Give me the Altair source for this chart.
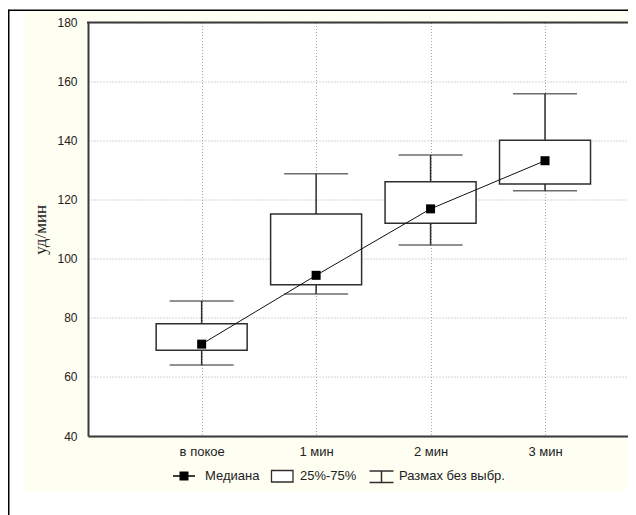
import altair as alt
import pandas as pd

# ---- data ----
categories = ["в покое", "1 мин", "2 мин", "3 мин"]
medians = [71.1, 94.4, 116.9, 133.2]
q1 = [69.0, 91.2, 112.0, 125.3]
q3 = [78.0, 115.2, 126.1, 140.1]
whisk_lo = [64.0, 88.1, 104.7, 123.0]
whisk_hi = [85.7, 128.8, 135.1, 155.9]
y_ticks = [40, 60, 80, 100, 120, 140, 160, 180]
y_title = "уд/мин"
legend_labels = ["Медиана", "25%-75%", "Размах без выбр."]

df = pd.DataFrame({
    "cat": categories, "med": medians, "q1": q1, "q3": q3,
    "lo": whisk_lo, "hi": whisk_hi,
})
one = pd.DataFrame({"k": [0]})  # single row for decorative marks

W, H = 540, 413.5
LINE = "#2e2e2e"
AXC = "#3a3a3a"
FONT = "Liberation Sans"

xenc = alt.X("cat:N", sort=categories,
             scale=alt.Scale(type="point", padding=0.859, align=0.578),
             axis=alt.Axis(title=None, labelAngle=0, labelFontSize=13, labelFont=FONT,
                           labelColor="#222", ticks=False, tickSize=0, domain=True,
                           domainColor=AXC, domainWidth=2,
                           labelPadding=9, grid=True, gridDash=[1, 2],
                           gridColor="#a8a8a8", gridWidth=1))
yscale = alt.Scale(domain=[40, 180], nice=False, zero=False)
yaxis = alt.Axis(title=y_title, values=y_ticks, titleFont="Liberation Serif",
                 titleFontSize=17, titleFontWeight="normal", titleColor="#222",
                 titleX=-48, titleY=H / 2, titleAngle=-90, titleAlign="center",
                 titleBaseline="middle", labelFont=FONT, labelFontSize=12,
                 labelColor="#222", ticks=False, tickSize=0, domain=True,
                 domainColor=AXC, domainWidth=2,
                 labelPadding=11, gridDash=[1, 2], gridColor="#a8a8a8", gridWidth=1)

base = alt.Chart(df)
deco = alt.Chart(one)

# decorations (white margins + outer frame + top border of plot)
white_left = deco.mark_rect(color="white").encode(
    x=alt.value(-80), x2=alt.value(-65), y=alt.value(-14.5), y2=alt.value(492.5))
white_top = deco.mark_rect(color="white").encode(
    x=alt.value(-80), x2=alt.value(W), y=alt.value(-14.5), y2=alt.value(-12))
white_bot = deco.mark_rect(color="white").encode(
    x=alt.value(-80), x2=alt.value(W), y=alt.value(468.5), y2=alt.value(492.5))
frame_left = deco.mark_rule(color="black", strokeWidth=1.6).encode(
    x=alt.value(-79.3), y=alt.value(-12.8), y2=alt.value(492.5))
frame_top = deco.mark_rule(color="black", strokeWidth=1.6).encode(
    x=alt.value(-80), x2=alt.value(W), y=alt.value(-12.2))
plot_top = deco.mark_rule(color=AXC, strokeWidth=2).encode(
    x=alt.value(-1), x2=alt.value(W), y=alt.value(0))

stems = base.mark_rule(color=LINE, strokeWidth=1.5).encode(
    x=xenc, y=alt.Y("lo:Q", scale=yscale, axis=yaxis), y2="hi:Q")
caps_lo = base.mark_tick(color=LINE, size=64, thickness=1.5, orient="horizontal").encode(
    x=alt.X("cat:N", sort=categories), y="lo:Q")
caps_hi = base.mark_tick(color=LINE, size=64, thickness=1.5, orient="horizontal").encode(
    x=alt.X("cat:N", sort=categories), y="hi:Q")
boxes = base.mark_bar(fill="white", stroke=LINE, strokeWidth=1.5, size=91).encode(
    x=alt.X("cat:N", sort=categories), y="q1:Q", y2="q3:Q")
med_line = base.mark_line(color="#111", strokeWidth=1).encode(
    x=alt.X("cat:N", sort=categories), y="med:Q")
med_pts = base.mark_square(color="black", size=81, opacity=1).encode(
    x=alt.X("cat:N", sort=categories), y="med:Q")

# custom legend
LY = 453.5
TXT = dict(align="left", baseline="middle", font=FONT, fontSize=13,
           fontWeight="normal", color="#222")
leg_line = deco.mark_rule(color="black", strokeWidth=1.5).encode(
    x=alt.value(85), x2=alt.value(107), y=alt.value(LY))
leg_sq = deco.mark_square(color="black", size=81, opacity=1).encode(
    x=alt.value(96), y=alt.value(LY))
leg_t1 = deco.mark_text(text=legend_labels[0], **TXT).encode(
    x=alt.value(117), y=alt.value(LY))
leg_box = deco.mark_rect(fill="white", stroke=LINE, strokeWidth=1.3).encode(
    x=alt.value(183.5), x2=alt.value(205), y=alt.value(LY - 5.5), y2=alt.value(LY + 6))
leg_t2 = deco.mark_text(text=legend_labels[1], **TXT).encode(
    x=alt.value(212), y=alt.value(LY))
leg_w1 = deco.mark_rule(color=LINE, strokeWidth=1.5).encode(
    x=alt.value(281.5), x2=alt.value(305.5), y=alt.value(LY - 5))
leg_w2 = deco.mark_rule(color=LINE, strokeWidth=1.5).encode(
    x=alt.value(281.5), x2=alt.value(305.5), y=alt.value(LY + 6.5))
leg_w3 = deco.mark_rule(color=LINE, strokeWidth=1.5).encode(
    x=alt.value(293.5), y=alt.value(LY - 5), y2=alt.value(LY + 6.5))
leg_t3 = deco.mark_text(text=legend_labels[2], **TXT).encode(
    x=alt.value(311), y=alt.value(LY))

chart = alt.layer(
    white_left, white_top, white_bot, frame_left, frame_top,
    stems, boxes, caps_lo, caps_hi, med_line, med_pts, plot_top,
    leg_line, leg_sq, leg_t1, leg_box, leg_t2, leg_w1, leg_w2, leg_w3, leg_t3,
).properties(
    width=W, height=H,
    autosize=alt.AutoSizeParams(type="none"),
    padding={"left": 80, "top": 14.5, "right": 0, "bottom": 79},
    background="#FFFEF2",
).configure_view(
    fill="white", stroke=None,
)

chart.save("out.html", embed_options={"renderer": "svg", "actions": False})
